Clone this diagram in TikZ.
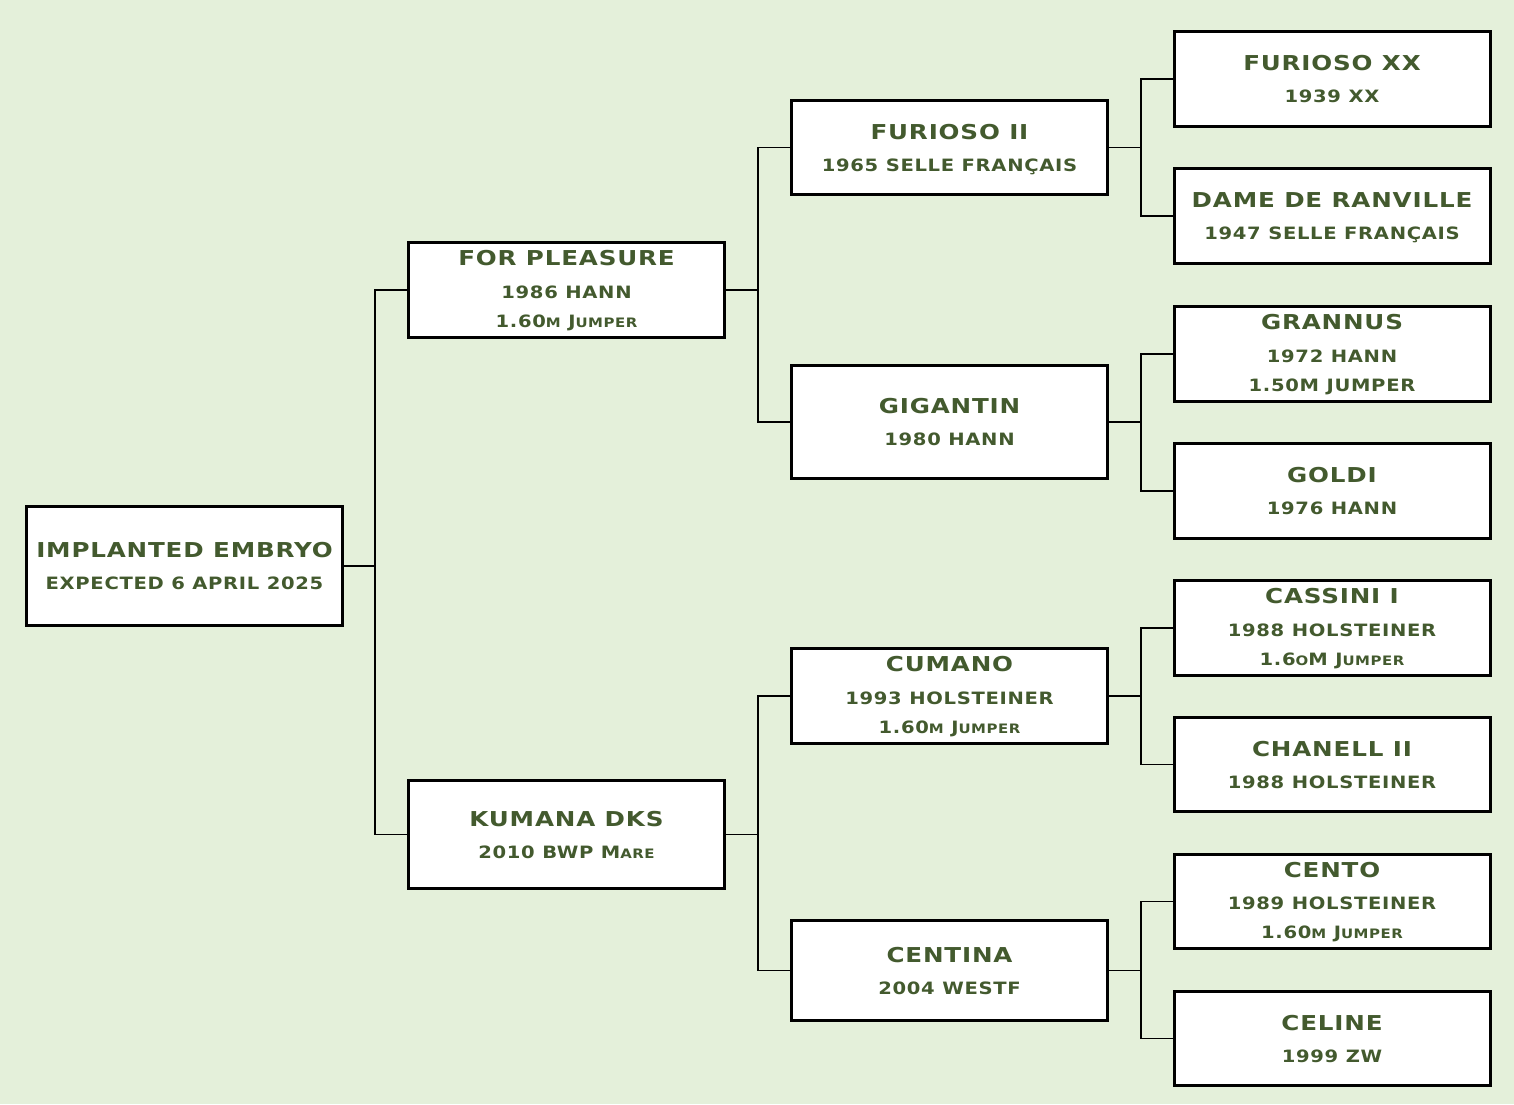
\documentclass[tikz,border=0pt]{standalone}
\usepackage{fontspec}
\newfontfamily\ttlfont[FakeStretch=1.2,LetterSpace=4]{DejaVu Sans}
\newfontfamily\subfont[FakeStretch=1.15,LetterSpace=4]{DejaVu Sans}
\definecolor{bgc}{RGB}{228,240,218}
\definecolor{txc}{RGB}{67,90,46}
\newcommand\smc[1]{{\fontsize{13}{15}\selectfont #1}}
\tikzset{
  hbox/.style={draw=black, line width=3pt, fill=white, minimum width=316pt, inner sep=0pt},
  ttl/.style={anchor=base, inner sep=0pt, text=txc, font=\ttlfont\bfseries\fontsize{20.5}{24}\selectfont},
  sub/.style={anchor=base, inner sep=0pt, text=txc, font=\subfont\bfseries\fontsize{17}{20}\selectfont},
  conn/.style={draw=black, line width=1.8pt}
}
\newcommand\twoline[6]{%
  \node[hbox, minimum height=#4pt] (#1) at (#2,#3) {};
  \node[ttl] (#1t) at (#2,#3-8.5) {#5};
  \node[sub] (#1s) at (#2,#3+23.5) {#6};
}
\newcommand\threeline[7]{%
  \node[hbox, minimum height=#4pt] (#1) at (#2,#3) {};
  \node[ttl] (#1t) at (#2,#3-24.5) {#5};
  \node[sub] (#1s) at (#2,#3+8) {#6};
  \node[sub] (#1u) at (#2,#3+37) {#7};
}
\begin{document}
\begin{tikzpicture}[x=1pt,y=-1pt]
\fill[bgc] (0,0) rectangle (1514,1104);
\useasboundingbox (0,0) rectangle (1514,1104);
% junction coordinates
\coordinate (j0) at (375,566);
\coordinate (j1) at (758,290);
\coordinate (j2) at (758,834.5);
\coordinate (j3) at (1141,147.5);
\coordinate (j4) at (1141,422);
\coordinate (j5) at (1141,696);
\coordinate (j6) at (1141,970.5);
% nodes
\twoline{root}{184.5}{566}{119}{IMPLANTED EMBRYO}{EXPECTED 6 APRIL 2025}
\threeline{fp}{566.5}{290}{95}{FOR PLEASURE}{1986 HANN}{1.60\smc{M} J\smc{UMPER}}
\twoline{km}{566.5}{834.5}{108}{KUMANA DKS}{2010 BWP M\smc{ARE}}
\twoline{ftwo}{949.5}{147.5}{94}{FURIOSO II}{1965 SELLE FRANÇAIS}
\twoline{gg}{949.5}{422}{113}{GIGANTIN}{1980 HANN}
\threeline{cu}{949.5}{696}{95}{CUMANO}{1993 HOLSTEINER}{1.60\smc{M} J\smc{UMPER}}
\twoline{ce}{949.5}{970.5}{100}{CENTINA}{2004 WESTF}
\twoline{fx}{1332}{79}{95}{FURIOSO XX}{1939 XX}
\twoline{dr}{1332}{216}{95}{DAME DE RANVILLE}{1947 SELLE FRANÇAIS}
\threeline{gr}{1332}{354}{95}{GRANNUS}{1972 HANN}{1.50M JUMPER}
\twoline{go}{1332}{491}{95}{GOLDI}{1976 HANN}
\threeline{ca}{1332}{628}{95}{CASSINI I}{1988 HOLSTEINER}{1.6\smc{O}M J\smc{UMPER}}
\twoline{ch}{1332}{764.5}{94}{CHANELL II}{1988 HOLSTEINER}
\threeline{cn}{1332}{901.5}{94}{CENTO}{1989 HOLSTEINER}{1.60\smc{M} J\smc{UMPER}}
\twoline{cl}{1332}{1038.5}{94}{CELINE}{1999 ZW}
% connectors
\draw[conn] (root.east) -- (j0);
\draw[conn] (fp.west) -| (j0);
\draw[conn] (km.west) -| (j0);
\draw[conn] (fp.east) -- (j1);
\draw[conn] (ftwo.west) -| (j1);
\draw[conn] (gg.west) -| (j1);
\draw[conn] (km.east) -- (j2);
\draw[conn] (cu.west) -| (j2);
\draw[conn] (ce.west) -| (j2);
\draw[conn] (ftwo.east) -- (j3);
\draw[conn] (fx.west) -| (j3);
\draw[conn] (dr.west) -| (j3);
\draw[conn] (gg.east) -- (j4);
\draw[conn] (gr.west) -| (j4);
\draw[conn] (go.west) -| (j4);
\draw[conn] (cu.east) -- (j5);
\draw[conn] (ca.west) -| (j5);
\draw[conn] (ch.west) -| (j5);
\draw[conn] (ce.east) -- (j6);
\draw[conn] (cn.west) -| (j6);
\draw[conn] (cl.west) -| (j6);
\end{tikzpicture}
\end{document}
